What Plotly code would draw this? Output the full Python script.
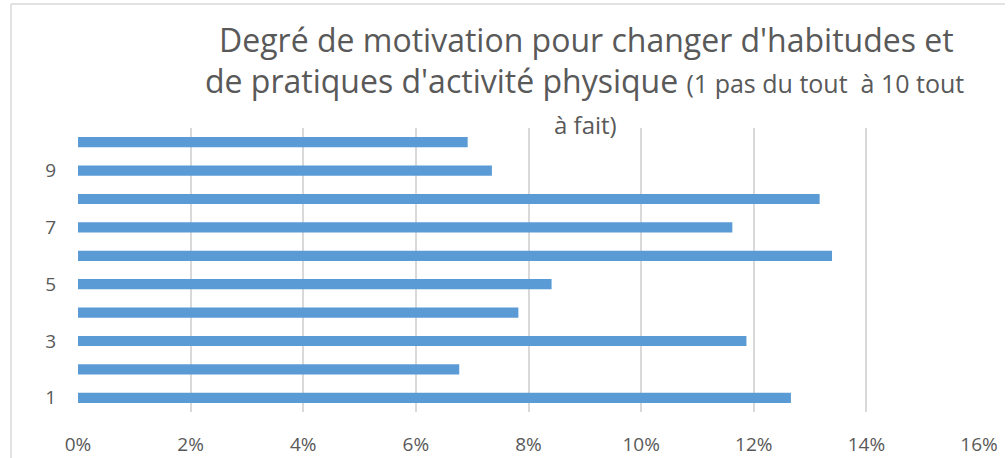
import plotly.graph_objects as go

categories = ["1", "2", "3", "4", "5", "6", "7", "8", "9", "10"]
values = [12.66, 6.77, 11.87, 7.82, 8.41, 13.39, 11.62, 13.17, 7.35, 6.92]
x_ticks = [0, 2, 4, 6, 8, 10, 12, 14, 16]
x_tick_labels = ["0%", "2%", "4%", "6%", "8%", "10%", "12%", "14%", "16%"]
y_tick_labels = ["1", "", "3", "", "5", "", "7", "", "9", ""]

FONT = "Open Sans"
GRAY = "#595959"

W, H = 1008, 458
L, R, T, B = 78, 29, 128, 46
pw, ph = W - L - R, H - T - B

def px(x):
    return (x - L) / pw

def py(y):
    return 1 - (y - T) / ph

fig = go.Figure(go.Bar(
    y=categories, x=values, orientation="h",
    marker=dict(color="#5b9bd5", line=dict(width=0)),
))

fig.update_layout(
    width=W, height=H,
    margin=dict(l=L, r=R, t=T, b=B, autoexpand=False),
    plot_bgcolor="white", paper_bgcolor="white",
    bargap=0.64,
    showlegend=False,
    font=dict(family=FONT, color=GRAY),
)
fig.update_xaxes(
    range=[0, 16], tickvals=x_ticks, ticktext=x_tick_labels,
    showgrid=True, gridcolor="#d9d9d9", gridwidth=1.5,
    zeroline=False, showline=False, automargin=False,
    tickfont=dict(size=19, color=GRAY, family=FONT),
    ticklabelstandoff=19,
)
fig.update_yaxes(
    categoryorder="array", categoryarray=categories,
    tickvals=categories, ticktext=y_tick_labels,
    showgrid=False, zeroline=False, showline=False, automargin=False,
    tickfont=dict(size=19, color=GRAY, family=FONT),
    ticklabelstandoff=21,
)

# Title as three annotations
fig.add_annotation(
    xref="paper", yref="paper", x=px(586), y=py(40),
    text="Degré de motivation pour changer d'habitudes et",
    showarrow=False, xanchor="center", yanchor="middle",
    font=dict(size=32, color=GRAY, family=FONT),
)
fig.add_annotation(
    xref="paper", yref="paper", x=px(584), y=py(80),
    text="de pratiques d'activité physique <span style='font-size:25px'>(1 pas du tout  à 10 tout</span>",
    showarrow=False, xanchor="center", yanchor="middle",
    font=dict(size=32, color=GRAY, family=FONT),
)
fig.add_annotation(
    xref="paper", yref="paper", x=px(585), y=py(125),
    text="à fait)",
    showarrow=False, xanchor="center", yanchor="middle",
    font=dict(size=24, color=GRAY, family=FONT),
)

# chart border (top and left)
fig.add_shape(type="line", xref="paper", yref="paper",
              x0=px(11), x1=px(1005), y0=py(4), y1=py(4),
              line=dict(color="#d9d9d9", width=1.5))
fig.add_shape(type="line", xref="paper", yref="paper",
              x0=px(11), x1=px(11), y0=py(4), y1=py(458),
              line=dict(color="#d9d9d9", width=1.5))

fig.write_html("out.html", config={"displayModeBar": False},
               post_script="document.body.style.margin='0';document.body.style.overflow='hidden';")
